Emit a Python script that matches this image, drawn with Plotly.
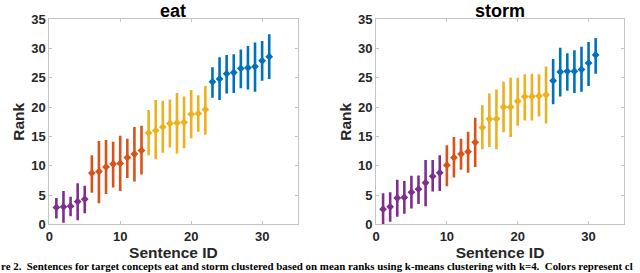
import plotly.graph_objects as go

sentence_ids = list(range(1, 32))

eat_mean = [2.9, 3.0, 3.1, 3.9, 4.3, 8.75, 9.0, 9.8, 10.3, 10.4, 11.4, 12.0, 12.6,
            15.6, 16.0, 16.6, 17.2, 17.3, 17.4, 18.8, 18.9, 19.6,
            24.3, 24.8, 25.7, 25.9, 26.6, 26.7, 26.9, 27.9, 28.6]
eat_upper = [4.5, 5.7, 4.7, 7.0, 6.6, 11.8, 14.2, 14.4, 14.1, 15.1, 14.6, 16.6, 16.8,
             19.5, 21.2, 21.1, 21.3, 22.4, 21.8, 22.9, 22.0, 23.6,
             26.8, 28.5, 28.9, 29.0, 29.8, 30.4, 31.0, 31.25, 32.4]
eat_lower = [1.0, 0.3, 1.4, 0.7, 1.9, 5.4, 3.6, 5.2, 6.3, 5.7, 7.9, 7.3, 8.5,
             11.8, 11.1, 12.2, 13.1, 12.1, 13.0, 14.7, 15.8, 15.3,
             21.6, 21.2, 22.3, 22.4, 23.2, 23.0, 22.6, 24.5, 24.8]
eat_cluster = [0] * 5 + [1] * 8 + [2] * 9 + [3] * 9

storm_mean = [2.6, 3.0, 4.5, 4.6, 5.5, 6.0, 7.1, 8.2, 8.8, 10.1, 11.4, 12.0, 12.4, 14.0,
              16.5, 17.95, 18.0, 20.0, 20.0, 21.0, 21.8, 21.8, 21.9, 22.1,
              24.5, 26.0, 26.1, 26.1, 26.4, 27.5, 28.9]
storm_upper = [5.3, 5.5, 7.6, 7.4, 8.3, 8.35, 11.0, 11.0, 11.8, 13.5, 14.9, 14.6, 15.8, 18.2,
               20.3, 22.3, 23.0, 24.3, 25.0, 25.0, 25.6, 25.7, 25.6, 26.9,
               28.2, 30.1, 29.2, 29.7, 30.3, 31.1, 31.8]
storm_lower = [-0.3, 0.45, 1.3, 1.8, 2.7, 3.5, 3.1, 5.6, 5.7, 6.5, 8.0, 9.3, 8.8, 9.8,
               12.8, 13.2, 12.8, 15.7, 14.9, 16.8, 17.7, 17.7, 18.4, 17.2,
               20.5, 21.8, 22.8, 22.4, 22.6, 23.6, 25.7]
storm_cluster = [0] * 9 + [1] * 5 + [2] * 10 + [3] * 7

cluster_colors = ["#7E2F8E", "#D95319", "#EDB120", "#0072BD"]
titles = ["eat", "storm"]
x_ticks = [0, 10, 20, 30]
y_ticks = [0, 5, 10, 15, 20, 25, 30, 35]
caption = ("re 2.  Sentences for target concepts eat and storm clustered based on mean ranks "
           "using k-means clustering with k=4.  Colors represent cl")

fig = go.Figure()

panels = [
    (eat_mean, eat_upper, eat_lower, eat_cluster, "x", "y"),
    (storm_mean, storm_upper, storm_lower, storm_cluster, "x2", "y2"),
]

for mean, upper, lower, cluster, xa, ya in panels:
    for k, col in enumerate(cluster_colors):
        idx = [i for i, c in enumerate(cluster) if c == k]
        xs = [sentence_ids[i] for i in idx]
        ys = [mean[i] for i in idx]
        ep = [upper[i] - mean[i] for i in idx]
        em = [mean[i] - lower[i] for i in idx]
        fig.add_trace(go.Scatter(
            x=xs, y=ys, mode="markers", xaxis=xa, yaxis=ya,
            marker=dict(symbol="diamond", size=6, color=col),
            error_y=dict(type="data", symmetric=False, array=ep, arrayminus=em,
                         color=col, thickness=2.6, width=0),
            showlegend=False, hoverinfo="skip",
        ))

axis_common = dict(
    range=[0, 35], showline=True, linecolor="#c4c4c4", linewidth=1, mirror="ticks",
    ticks="inside", ticklen=3, tickcolor="#c4c4c4", showgrid=False, zeroline=False,
    automargin=False,
    tickfont=dict(family="Liberation Sans", size=13, color="#262626"),
)
title_font = dict(family="Liberation Sans", size=15.5, color="#262626")

fig.update_layout(
    template="none",
    width=640, height=273, margin=dict(l=0, r=0, t=0, b=0, pad=0),
    paper_bgcolor="white", plot_bgcolor="white",
    font=dict(family="Liberation Sans", weight="bold"),
    xaxis=dict(domain=[0.077, 0.465], anchor="y", tickvals=x_ticks,
               title=dict(text="Sentence ID", font=title_font, standoff=0), **axis_common),
    yaxis=dict(domain=[0.178, 0.930], anchor="x", tickvals=y_ticks,
               title=dict(text="Rank", font=title_font, standoff=2), **axis_common),
    xaxis2=dict(domain=[0.5875, 0.975], anchor="y2", tickvals=x_ticks,
                title=dict(text="Sentence ID", font=title_font, standoff=0), **axis_common),
    yaxis2=dict(domain=[0.178, 0.930], anchor="x2", tickvals=y_ticks,
                title=dict(text="Rank", font=title_font, standoff=2), **axis_common),
)

for i, t in enumerate(titles):
    xc = (0.077 + 0.465) / 2 if i == 0 else (0.5875 + 0.975) / 2
    fig.add_annotation(text=t, x=xc, y=1.0, xref="paper", yref="paper",
                       xanchor="center", yanchor="top", showarrow=False, borderpad=0,
                       font=dict(family="Liberation Sans", size=18, color="black", weight="bold"))

fig.add_annotation(text=caption, x=0, y=0.0, xref="paper", yref="paper",
                   xanchor="left", yanchor="bottom", showarrow=False, borderpad=0,
                   font=dict(family="Liberation Serif", size=10.9, color="black", weight="bold"))

fig.write_html("out.html", config={"displayModeBar": False},
               post_script="document.body.style.margin='0';document.body.style.overflow='hidden';")
